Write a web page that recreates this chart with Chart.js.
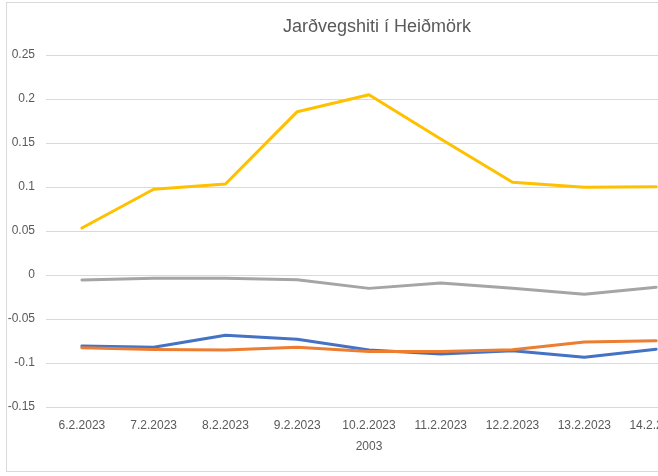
<!DOCTYPE html>
<html>
<head>
<meta charset="utf-8">
<script src="https://cdn.jsdelivr.net/npm/chart.js@4/dist/chart.umd.min.js"></script>
<style>
  html, body { margin: 0; padding: 0; background: #fff; overflow: hidden; width: 658px; height: 476px; }
  #frame { position: absolute; left: 6px; top: 2px; width: 800px; height: 470px; border: 1px solid #d9d9d9; box-sizing: border-box; }
  #wrap { position: absolute; left: 0; top: 0; width: 754px; height: 476px; }
</style>
</head>
<body>
<div id="frame"></div>
<div id="wrap"><canvas id="c" width="754" height="476"></canvas></div>
<script>
const categories = ["6.2.2023","7.2.2023","8.2.2023","9.2.2023","10.2.2023","11.2.2023","12.2.2023","13.2.2023","14.2.2023"];
const seriesBlue   = [-0.0807, -0.0822, -0.0685, -0.0730, -0.0852, -0.0898, -0.0860, -0.0935, -0.0843];
const seriesOrange = [-0.0826, -0.0848, -0.0852, -0.0822, -0.0870, -0.0870, -0.0850, -0.0761, -0.0747];
const seriesGray   = [-0.0057, -0.0038, -0.0038, -0.0053, -0.0152, -0.0090, -0.0150, -0.0218, -0.0138];
const seriesYellow = [0.0534, 0.0974, 0.1034, 0.1856, 0.2049, 0.1545, 0.1053, 0.0997, 0.1003];
const yTicks = [-0.15, -0.1, -0.05, 0, 0.05, 0.1, 0.15, 0.2, 0.25];
const chartTitle = "Jarðvegshiti í Heiðmörk";
const xAxisTitle = "2003";

const FONT = "'Liberation Sans', Arial, sans-serif";
const TXT = "#595959";

function ds(data, color, order) {
  return { data, yAxisID: 'y', borderColor: color, backgroundColor: color, borderWidth: 3, pointRadius: 0, pointHoverRadius: 0, tension: 0, fill: false, order, borderCapStyle: 'round', borderJoinStyle: 'round' };
}

new Chart(document.getElementById('c'), {
  type: 'line',
  data: {
    labels: categories,
    datasets: [
      ds(seriesBlue, '#4472C4', 4),
      ds(seriesOrange, '#ED7D31', 3),
      ds(seriesGray, '#A5A5A5', 2),
      ds(seriesYellow, '#FFC000', 1)
    ]
  },
  options: {
    responsive: false,
    animation: false,
    layout: { padding: { left: 0, right: 0, top: 0, bottom: 4 } },
    plugins: {
      legend: { display: false },
      tooltip: { enabled: false },
      title: {
        display: true,
        text: chartTitle,
        color: TXT,
        font: { family: FONT, size: 18, weight: 'normal', lineHeight: 1.2 },
        padding: { top: 16, bottom: 17.4 }
      }
    },
    scales: {
      x: {
        offset: true,
        grid: { display: false, drawTicks: false },
        border: { display: false },
        ticks: { color: TXT, font: { family: FONT, size: 12 }, padding: 11, maxRotation: 0, autoSkip: false },
        title: { display: true, text: xAxisTitle, color: TXT, font: { family: FONT, size: 12 }, padding: { top: 4, bottom: 18 } },
        afterFit(scale) { scale.height = 65; }
      },
      y: {
        position: 'left',
        min: -0.15,
        max: 0.25,
        afterBuildTicks(scale) { scale.ticks = yTicks.map(v => ({ value: v })); },
        grid: { color: '#d9d9d9', lineWidth: 1, drawTicks: false },
        border: { display: false },
        ticks: { color: TXT, font: { family: FONT, size: 12 }, padding: 11, callback: v => String(Math.round(v * 100) / 100) },
        afterFit(scale) { scale.width = 46; }
      },
      yRight: {
        position: 'right',
        min: -0.15,
        max: 0.25,
        grid: { display: false, drawTicks: false },
        border: { display: false },
        ticks: { display: false },
        afterFit(scale) { scale.width = 62; }
      }
    }
  }
});
</script>
</body>
</html>
